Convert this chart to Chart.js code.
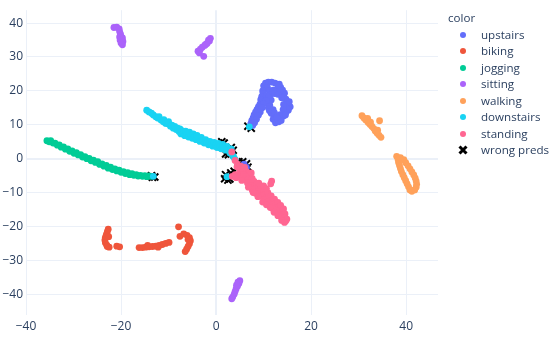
<!DOCTYPE html>
<html>
<head>
<meta charset="utf-8">
<script src="https://cdn.jsdelivr.net/npm/chart.js@4.4.1/dist/chart.umd.min.js"></script>
<style>
html, body { margin: 0; padding: 0; background: #fff; }
#wrap { position: relative; width: 550px; height: 337px; font-family: "Open Sans", sans-serif; color: #2a3f5f; }
#legend .title { position: absolute; left: 448px; top: 10px; font-size: 11.6px; line-height: 16px; }
.item { position: absolute; left: 458px; width: 90px; height: 16px; font-size: 11.6px; line-height: 16px; white-space: nowrap; }
.item .dot { position: absolute; left: 2px; top: 5px; width: 6px; height: 6px; border-radius: 3px; }
.item svg { position: absolute; left: 0; top: 3px; }
.item .label { position: absolute; left: 23px; top: 0; }
</style>
</head>
<body>
<div id="wrap">
  <canvas id="chart" width="550" height="337"></canvas>
  <div id="legend"><div class="title">color</div></div>
</div>
<script>

const categories = ['upstairs', 'biking', 'jogging', 'sitting', 'walking', 'downstairs', 'standing'];
const colors = ['#636efa', '#EF553B', '#00cc96', '#ab63fa', '#FFA15A', '#19d3f3', '#FF6692'];
const wrongLabel = 'wrong preds';

const xTicks = [-40, -20, 0, 20, 40];
const yTicks = [-40, -30, -20, -10, 0, 10, 20, 30, 40];

const upstairs = [
    [10.0, 21.5], [10.4, 22.3], [11.0, 22.6], [11.7, 22.6], [12.4, 22.3], [13.0, 21.8], [13.6, 21.0], [13.3, 22.0],
    [14.0, 20.2], [14.4, 19.3], [14.2, 18.5], [14.7, 17.6], [15.0, 16.8], [15.3, 15.9], [15.6, 15.3], [14.8, 15.0],
    [15.2, 14.3], [14.7, 13.6], [15.4, 16.8], [14.0, 19.5], [14.2, 12.6], [13.6, 12.0], [13.0, 11.3], [12.5, 10.6],
    [13.2, 10.9], [12.0, 11.6], [12.2, 12.5], [11.6, 13.4], [11.2, 14.2], [11.0, 15.0], [11.3, 15.8], [11.0, 16.6],
    [11.6, 17.3], [12.0, 14.5], [12.3, 13.5], [10.2, 20.5], [10.8, 21.0], [9.8, 20.0], [9.9, 19.2], [9.6, 18.3],
    [9.4, 17.4], [9.6, 16.6], [9.2, 16.0], [8.9, 15.3], [8.6, 14.5], [8.9, 14.0], [8.3, 13.7], [8.0, 12.9],
    [8.4, 12.4], [7.8, 12.0], [7.5, 11.2], [7.8, 10.7], [7.3, 10.3], [5.9, -1.6], [6.4, -2.6],
    [11.2, 20.0], [12.0, 20.2], [12.8, 20.4], [13.4, 20.0], [11.5, 19.0], [12.3, 19.2], [13.0, 19.0], [10.6, 18.6],
    [11.0, 18.0], [13.8, 18.0], [14.2, 16.0], [14.1, 14.5], [13.5, 13.0], [14.6, 12.9], [13.7, 11.3], [12.8, 12.2],
    [10.5, 17.2], [10.0, 16.2], [9.7, 15.0], [9.3, 13.8], [8.9, 12.8], [8.5, 11.6], [8.1, 10.6], [7.7, 9.8]
];
const biking = [
    [-22.7, -20.8], [-22.9, -21.6], [-23.1, -22.4], [-23.3, -23.2], [-23.4, -24.0], [-23.3, -24.8], [-23.0, -25.5],
    [-22.5, -26.1], [-22.9, -25.9], [-20.9, -25.8], [-20.3, -26.0], [-16.2, -26.2], [-15.5, -26.2], [-14.8, -26.1],
    [-14.1, -26.0], [-13.4, -25.9], [-12.7, -25.8], [-12.0, -25.6], [-11.3, -25.3], [-10.6, -25.0], [-9.9, -24.7],
    [-7.9, -20.1], [-7.6, -22.9], [-6.8, -22.2], [-6.1, -22.6], [-5.6, -23.3], [-5.4, -24.2], [-5.6, -25.1],
    [-5.9, -25.9], [-6.2, -26.7], [-6.5, -27.4], [-14.4, -25.6], [-12.2, -26.1], [-22.6, -23.0], [-5.9, -23.8]
];
const jogging = [
    [-35.6, 5.3], [-35.1, 5.0], [-34.8, 5.3], [-34.3, 4.6], [-33.9, 4.6], [-33.4, 4.0], [-33.0, 4.1], [-32.6, 3.4],
    [-32.1, 3.5], [-31.7, 2.8], [-31.2, 2.9], [-30.8, 2.2], [-30.3, 2.3], [-29.9, 1.6], [-29.4, 1.8], [-29.0, 1.1],
    [-28.5, 1.2], [-28.1, 0.5], [-27.6, 0.6], [-27.2, 0.0], [-26.7, 0.1], [-26.3, -0.6], [-25.8, -0.4], [-25.4, -1.1],
    [-24.9, -0.9], [-24.5, -1.7], [-24.0, -1.5], [-23.6, -2.2], [-23.1, -2.0], [-22.7, -2.8], [-22.2, -2.5], [-21.8, -3.2],
    [-21.3, -3.0], [-20.9, -3.6], [-20.4, -3.4], [-20.0, -4.0], [-19.5, -3.8], [-19.1, -4.4], [-18.6, -4.1], [-18.2, -4.7],
    [-17.7, -4.4], [-17.3, -4.9], [-16.8, -4.7], [-16.4, -5.1], [-15.9, -4.9], [-15.5, -5.2], [-15.0, -5.0], [-14.6, -5.3],
    [-14.1, -5.1], [-13.7, -5.2]
];
const sitting = [
    [-21.5, 38.7], [-20.9, 38.8], [-20.4, 38.3], [-20.3, 37.5], [-20.1, 36.7], [-20.3, 35.9], [-19.7, 35.6], [-20.2, 35.0],
    [-19.6, 34.6], [-20.0, 34.1], [-19.7, 33.6],
    [-1.2, 35.5], [-1.4, 34.7], [-1.9, 34.0], [-2.4, 33.4], [-2.9, 32.9], [-3.3, 32.3], [-3.8, 31.7], [-3.5, 31.2],
    [-2.6, 30.2], [-1.6, 35.0], [-2.2, 33.7],
    [5.0, -36.0], [4.8, -36.8], [4.5, -37.6], [4.6, -36.4], [4.2, -38.4], [4.0, -39.2], [3.8, -40.0], [3.5, -40.8],
    [3.3, -41.3], [4.3, -37.3]
];
const walking = [
    [30.7, 12.7], [31.1, 12.0], [31.5, 11.4], [31.9, 11.9], [32.0, 10.7], [32.4, 10.1], [32.8, 9.5], [32.5, 10.8],
    [33.2, 8.9], [33.5, 8.2], [33.9, 7.5], [34.3, 6.9], [34.7, 6.3], [34.0, 8.4], [34.4, 11.2],
    [38.0, 0.7], [38.3, -0.2], [38.4, -1.1], [38.6, -2.0], [38.8, -2.9], [39.0, -3.8], [39.3, -4.7], [39.6, -5.6],
    [39.9, -6.5], [40.2, -7.4], [40.5, -8.3], [40.8, -9.2], [41.2, -9.6], [38.8, 0.3], [39.5, -0.3], [39.9, -1.2],
    [40.4, -2.1], [40.8, -3.0], [41.2, -3.9], [41.6, -4.8], [41.9, -5.7], [42.1, -6.6], [42.2, -7.5], [42.1, -8.4],
    [41.8, -9.2]
];
const downstairs = [
    [-14.6, 14.3], [-14.1, 13.8], [-13.6, 13.4], [-13.2, 12.9], [-12.7, 12.4], [-12.3, 12.0], [-12.0, 12.4], [-11.6, 11.4],
    [-11.1, 10.9], [-11.0, 11.5], [-10.6, 10.4], [-10.2, 10.3], [-10.0, 10.9], [-9.6, 9.6], [-9.3, 9.9], [-9.0, 9.0],
    [-8.7, 9.5], [-8.4, 8.6], [-8.1, 9.0], [-7.8, 8.0], [-7.6, 8.8], [-7.4, 7.3], [-7.2, 8.3], [-6.9, 7.6],
    [-6.6, 6.8], [-6.4, 8.1], [-6.1, 7.2], [-5.8, 6.4], [-5.6, 7.8], [-5.3, 6.9], [-5.0, 6.0], [-4.8, 7.3],
    [-4.5, 6.4], [-4.2, 5.6], [-4.0, 6.9], [-3.7, 6.0], [-3.4, 5.1], [-3.1, 6.3], [-2.8, 5.4], [-2.5, 4.6],
    [-2.2, 5.6], [-1.9, 4.8], [-1.6, 4.1], [-1.3, 5.1], [-1.0, 4.3], [-0.7, 3.7], [-0.4, 4.8], [-0.1, 4.0],
    [0.2, 3.3], [0.5, 4.5], [0.8, 3.6], [1.1, 2.9], [1.4, 4.2], [1.7, 3.2], [2.0, 2.5], [2.3, 3.6],
    [2.6, 2.6], [2.9, 1.7], [3.2, 2.9], [3.4, 1.2], [3.7, 0.5], [4.0, -0.2],
    [-13.2, -5.2], [7.0, 9.4], [2.3, -5.3], [1.5, 3.0]
];
const standing = [
    [4.0, -0.5], [4.5, -1.6], [5.2, -2.2], [5.0, -3.0], [5.8, -3.2], [6.4, -3.8], [5.6, -4.0], [4.4, -2.4],
    [3.4, -5.2], [4.0, -4.7], [4.6, -4.6], [4.2, -5.6], [5.0, -5.4],
    [5.8, -4.8], [6.4, -5.2], [7.0, -4.9], [6.2, -6.2], [6.9, -6.0], [7.6, -5.8], [6.6, -7.2], [7.3, -7.0],
    [8.0, -6.7], [7.2, -8.0], [7.9, -7.9], [8.6, -7.5], [8.2, -8.9], [8.9, -8.5], [9.5, -8.2], [8.8, -9.8],
    [9.5, -9.6], [10.1, -9.2], [9.6, -10.8], [10.3, -10.5], [10.9, -10.0], [10.4, -11.6], [11.0, -11.4], [11.6, -11.0],
    [11.2, -12.6], [11.8, -12.3], [12.3, -11.9], [11.9, -13.5], [12.5, -13.3], [13.0, -12.9], [12.6, -14.5], [13.2, -14.3],
    [13.6, -13.8], [13.3, -15.6], [13.9, -15.3], [14.2, -14.8], [14.0, -16.6], [14.5, -16.3], [14.3, -17.4], [14.9, -17.8],
    [14.7, -18.3], [8.3, -10.2], [7.6, -9.2], [9.2, -11.0], [10.0, -12.0], [10.8, -12.8], [12.0, -14.8], [12.8, -15.8],
    [13.5, -17.0], [11.7, -6.6], [11.5, -7.4], [3.3, 2.0],
    [7.8, -10.0], [8.8, -11.2], [9.8, -12.8], [10.6, -13.6], [11.4, -14.4], [12.2, -15.8], [13.0, -16.8], [13.8, -18.2],
    [14.4, -18.8], [9.0, -7.2], [10.0, -8.0], [10.6, -8.8], [6.8, -8.4], [7.4, -4.2], [6.0, -2.6], [5.4, -6.4]
];
const wrongPreds = [
    [-13.6, -5.0], [-12.9, -5.4], [-13.4, -5.5], [6.7, 9.6], [7.4, 9.0],
    [1.2, 5.0], [1.7, 4.6], [1.3, 3.4], [2.0, 1.4], [2.6, 1.2], [3.2, 3.3], [3.6, 2.5], [3.2, 1.8],
    [4.8, -0.9], [5.6, -0.9], [6.4, -1.5], [6.7, -2.5],
    [1.8, -5.9], [2.5, -6.3], [2.0, -4.7], [3.1, -4.2], [3.8, -3.7], [2.9, -6.0]
];

const seriesPoints = [upstairs, biking, jogging, sitting, walking, downstairs, standing];

function toXY(pts) {
    return pts.map(([x, y]) => ({x: x, y: y}));
}

function minusSign(v) {
    return String(v).replace('-', '\u2212');
}

let datasets = categories.map((name, i) => ({
    label: name,
    data: toXY(seriesPoints[i]),
    backgroundColor: colors[i],
    borderWidth: 0,
    pointRadius: 3.4,
    pointHoverRadius: 3.4,
    order: categories.length - i
}));

// black x marks go behind everything else
datasets.push({
    label: wrongLabel,
    data: toXY(wrongPreds),
    pointStyle: 'crossRot',
    borderColor: '#000000',
    backgroundColor: '#000000',
    borderWidth: 2,
    pointRadius: 5,
    pointHoverRadius: 5,
    order: 99
});

const gridColor = '#EBF0F8';
const tickFont = {family: '"Open Sans", sans-serif', size: 12};

const chart = new Chart(document.getElementById('chart').getContext('2d'), {
    type: 'scatter',
    data: {datasets: datasets},
    options: {
        responsive: false,
        animation: false,
        devicePixelRatio: 1,
        layout: {padding: {top: 7, right: 112, bottom: 0, left: 0}},
        plugins: {legend: {display: false}, tooltip: {enabled: false}},
        scales: {
            x: {
                min: -40,
                max: 46.7,
                afterBuildTicks: axis => { axis.ticks = xTicks.map(v => ({value: v})); },
                afterFit: axis => { axis.height = 22; },
                grid: {color: gridColor, lineWidth: c => c.tick && c.tick.value === 0 ? 2 : 1, drawTicks: false},
                border: {display: false},
                ticks: {padding: 4, color: '#2a3f5f', font: tickFont, callback: minusSign}
            },
            y: {
                min: -46.1,
                max: 43.8,
                afterBuildTicks: axis => { axis.ticks = yTicks.map(v => ({value: v})); },
                afterFit: axis => { axis.width = 26; },
                grid: {color: gridColor, lineWidth: c => c.tick && c.tick.value === 0 ? 2 : 1, drawTicks: false},
                border: {display: false},
                ticks: {padding: 3, color: '#2a3f5f', font: tickFont, callback: minusSign}
            }
        }
    }
});

// legend in html, plotly style
const legend = document.getElementById('legend');
const legendNames = categories.concat([wrongLabel]);
legendNames.forEach((name, i) => {
    const item = document.createElement('div');
    item.className = 'item';
    item.style.top = (35 + i * 16.43 - 8) + 'px';
    let marker;
    if (i < categories.length) {
        marker = '<span class="dot" style="background:' + colors[i] + '"></span>';
    } else {
        marker = '<svg width="10" height="10"><path d="M1.5 1.5 L8.5 8.5 M8.5 1.5 L1.5 8.5" stroke="#000" stroke-width="3"/></svg>';
    }
    item.innerHTML = marker + '<span class="label">' + name + '</span>';
    legend.appendChild(item);
});
</script>
</body>
</html>
